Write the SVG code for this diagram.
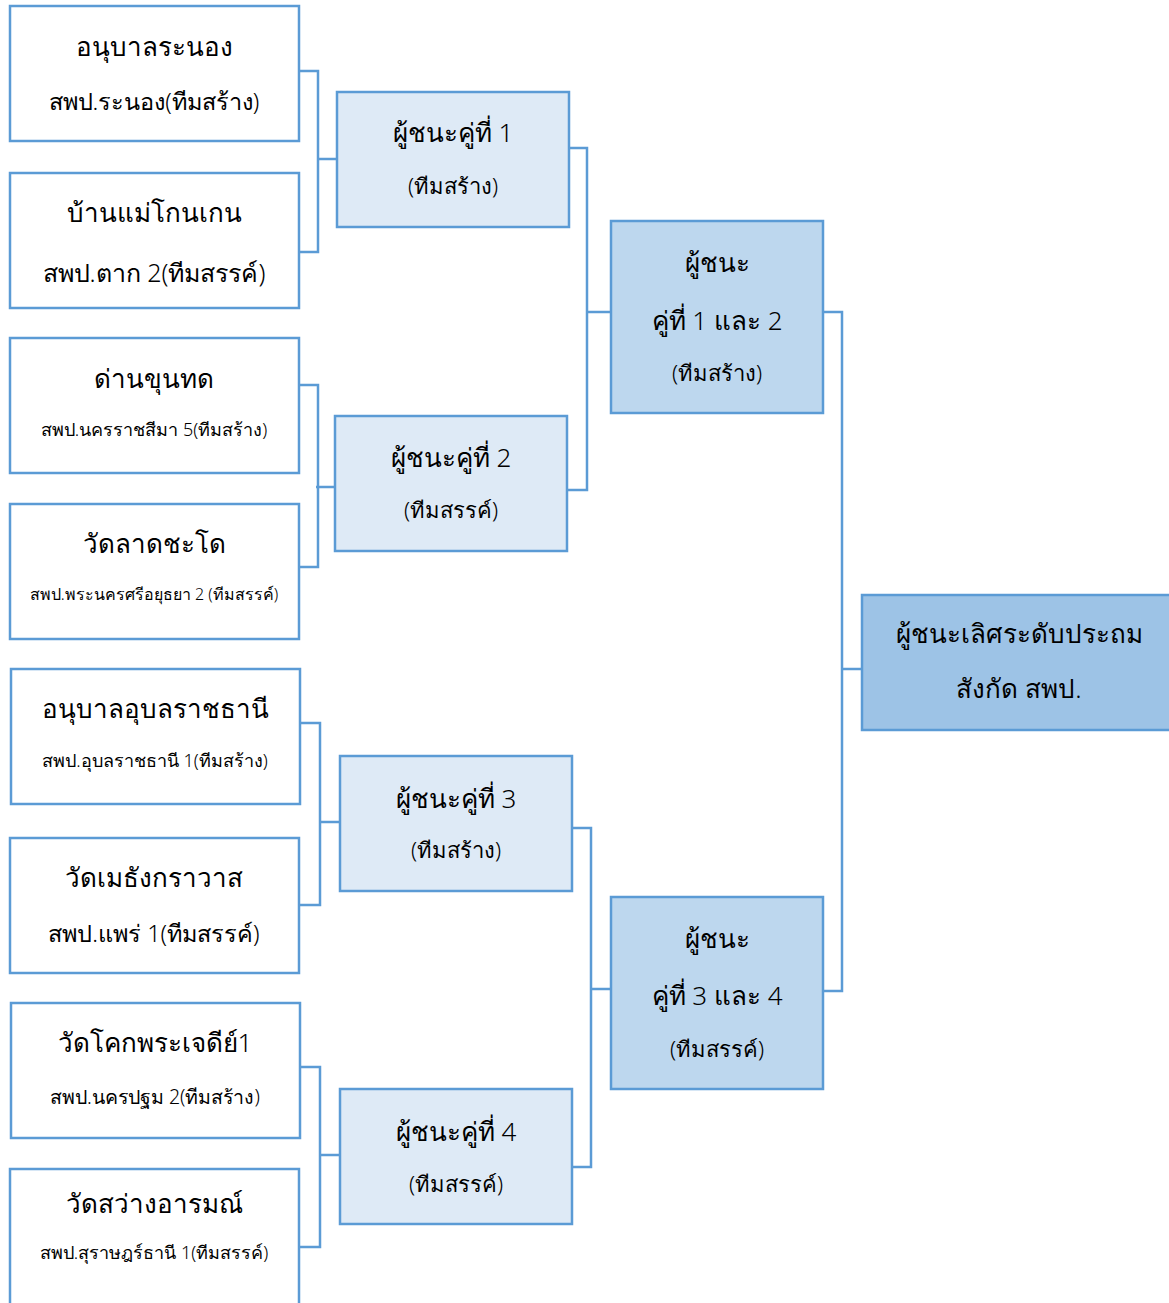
<svg xmlns="http://www.w3.org/2000/svg" width="1169" height="1303" viewBox="0 0 1169 1303">
<style>
.box{stroke:#5b9bd5;stroke-width:2.5}
.w{fill:#ffffff}
.r1{fill:#deeaf6}
.r2{fill:#bdd7ee}
.fin{fill:#9dc3e6}
.ln{fill:none;stroke:#5b9bd5;stroke-width:2.5}
text{font-family:"Noto Sans","DejaVu Sans",sans-serif;fill:#000000;text-anchor:middle;font-weight:300}
.big{font-size:26px}
.mid{font-size:22px}
.mid2{font-size:23.5px}
.sm{font-size:18px}
</style>
<rect width="1169" height="1303" fill="#ffffff"/>
<g id="connectors">
<path class="ln" d="M299,71 H318 V252 H299 M318,159 H337"/>
<path class="ln" d="M299,385 H318 V567 H299 M316,487 H335"/>
<path class="ln" d="M300,723 H320 V905 H299 M320,822 H340"/>
<path class="ln" d="M300,1067 H320 V1247 H299 M320,1155 H340"/>
<path class="ln" d="M569,148 H587 V490 H567 M587,312 H611"/>
<path class="ln" d="M572,828 H591 V1167 H572 M591,989 H611"/>
<path class="ln" d="M823,312 H842 V991 H823 M842,669 H862"/>
</g>
<g id="n1"><rect class="box w" x="10" y="6" width="289" height="135"/><text class="big" x="154" y="56">อนุบาลระนอง</text><text class="mid2" x="154" y="110">สพป.ระนอง(ทีมสร้าง)</text></g>
<g id="n2"><rect class="box w" x="10" y="173" width="289" height="135"/><text class="big" x="154" y="222">บ้านแม่โกนเกน</text><text class="mid" x="154" y="282" style="font-size:25px">สพป.ตาก 2(ทีมสรรค์)</text></g>
<g id="n3"><rect class="box w" x="10" y="338" width="289" height="135"/><text class="big" x="154" y="388">ด่านขุนทด</text><text class="sm" x="154" y="436">สพป.นครราชสีมา 5(ทีมสร้าง)</text></g>
<g id="n4"><rect class="box w" x="10" y="504" width="289" height="135"/><text class="big" x="154" y="553">วัดลาดชะโด</text><text class="sm" x="154" y="600" style="font-size:16px">สพป.พระนครศรีอยุธยา 2 (ทีมสรรค์)</text></g>
<g id="n5"><rect class="box w" x="11" y="669" width="289" height="135"/><text class="big" x="155" y="718">อนุบาลอุบลราชธานี</text><text class="sm" x="155" y="767">สพป.อุบลราชธานี 1(ทีมสร้าง)</text></g>
<g id="n6"><rect class="box w" x="10" y="838" width="289" height="135"/><text class="big" x="154" y="887">วัดเมธังกราวาส</text><text class="mid2" x="154" y="942">สพป.แพร่ 1(ทีมสรรค์)</text></g>
<g id="n7"><rect class="box w" x="11" y="1003" width="289" height="135"/><text class="big" x="155" y="1052">วัดโคกพระเจดีย์1</text><text class="sm" x="155" y="1104" style="font-size:19.5px">สพป.นครปฐม 2(ทีมสร้าง)</text></g>
<g id="n8"><rect class="box w" x="10" y="1169" width="289" height="140"/><text class="big" x="154" y="1213">วัดสว่างอารมณ์</text><text class="sm" x="154" y="1259">สพป.สุราษฎร์ธานี 1(ทีมสรรค์)</text></g>
<g id="m1"><rect class="box r1" x="337" y="92" width="232" height="135"/><text class="big" x="453" y="142">ผู้ชนะคู่ที่ 1</text><text class="mid" x="453" y="194">(ทีมสร้าง)</text></g>
<g id="m2"><rect class="box r1" x="335" y="416" width="232" height="135"/><text class="big" x="451" y="467">ผู้ชนะคู่ที่ 2</text><text class="mid" x="451" y="518">(ทีมสรรค์)</text></g>
<g id="m3"><rect class="box r1" x="340" y="756" width="232" height="135"/><text class="big" x="456" y="808">ผู้ชนะคู่ที่ 3</text><text class="mid" x="456" y="858">(ทีมสร้าง)</text></g>
<g id="m4"><rect class="box r1" x="340" y="1089" width="232" height="135"/><text class="big" x="456" y="1141">ผู้ชนะคู่ที่ 4</text><text class="mid" x="456" y="1192">(ทีมสรรค์)</text></g>
<g id="s1"><rect class="box r2" x="611" y="221" width="212" height="192"/><text class="big" x="717" y="272">ผู้ชนะ</text><text class="big" x="717" y="330">คู่ที่ 1 และ 2</text><text class="mid" x="717" y="381">(ทีมสร้าง)</text></g>
<g id="s2"><rect class="box r2" x="611" y="897" width="212" height="192"/><text class="big" x="717" y="948">ผู้ชนะ</text><text class="big" x="717" y="1005">คู่ที่ 3 และ 4</text><text class="mid" x="717" y="1057">(ทีมสรรค์)</text></g>
<g id="final"><rect class="box fin" x="862" y="595" width="310" height="135"/><text class="big" x="1019" y="643">ผู้ชนะเลิศระดับประถม</text><text class="big" x="1019" y="698">สังกัด สพป.</text></g>
</svg>
